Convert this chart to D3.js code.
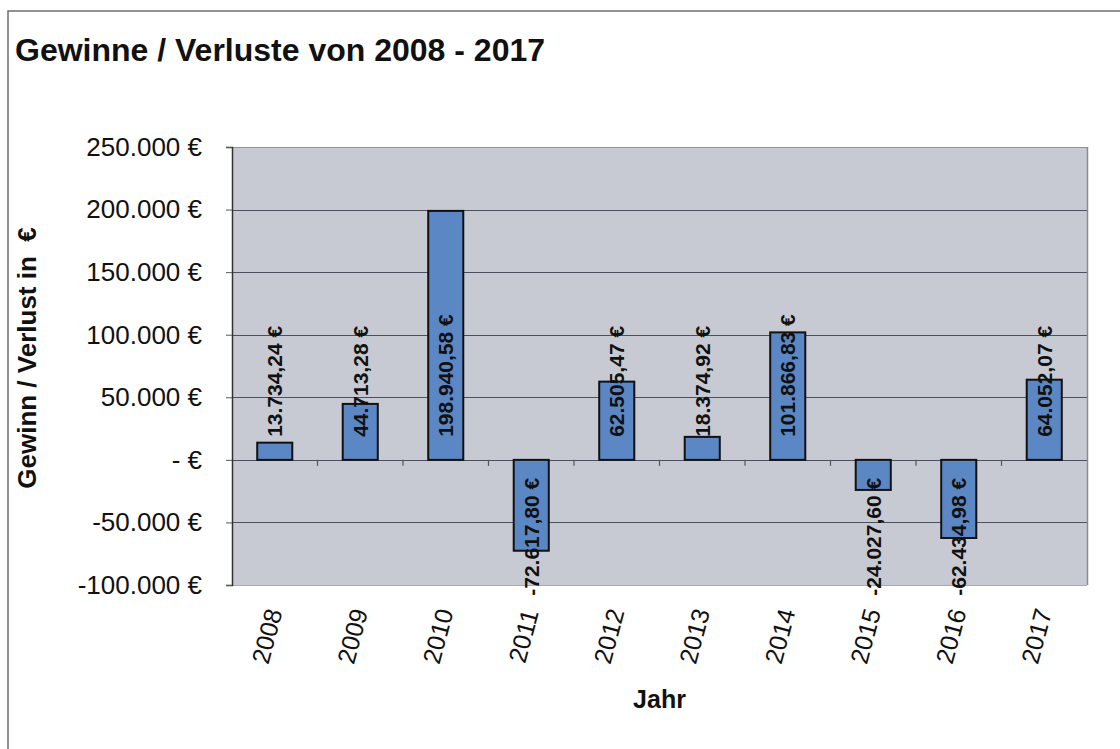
<!DOCTYPE html>
<html>
<head>
<meta charset="utf-8">
<script src="https://cdn.jsdelivr.net/npm/d3@7"></script>
<style>
  body { margin: 0; background: #fff; }
  text { font-family: "Liberation Sans", Arial, sans-serif; fill: #111; }
</style>
</head>
<body>
<div id="chart"></div>
<script>
// data
var years = ["2008", "2009", "2010", "2011", "2012", "2013", "2014", "2015", "2016", "2017"];
var profits = [13734.24, 44713.28, 198940.58, -72617.80, 62505.47, 18374.92, 101866.83, -24027.60, -62434.98, 64052.07];
var yTicks = [-100000, -50000, 0, 50000, 100000, 150000, 200000, 250000];

var width = 1120, height = 749;
var plot = {left: 232, right: 1087, top: 147, bottom: 585};

var de = d3.formatLocale({decimal: ",", thousands: ".", grouping: [3], currency: ["", " €"], minus: "-"});
var fmtTick = de.format(",.0f"),
    fmtVal = de.format(",.2f");

var svg = d3.select("#chart").append("svg")
    .attr("width", width)
    .attr("height", height);

// outer frame
svg.append("rect")
    .attr("x", 8).attr("y", 11)
    .attr("width", 1140).attr("height", 780)
    .attr("fill", "none")
    .attr("stroke", "#6f6f6f")
    .attr("stroke-width", 1.5);

svg.append("text")
    .attr("x", 15).attr("y", 61)
    .style("font-size", "32px")
    .style("font-weight", "bold")
    .text("Gewinne / Verluste von 2008 - 2017");

var x = d3.scaleBand()
    .domain(years)
    .range([plot.left, plot.right])
    .paddingInner(0.59)
    .paddingOuter(0.295);

var y = d3.scaleLinear()
    .domain([-100000, 250000])
    .range([plot.bottom, plot.top]);

// plot background
svg.append("rect")
    .attr("x", plot.left).attr("y", plot.top)
    .attr("width", plot.right - plot.left)
    .attr("height", plot.bottom - plot.top)
    .attr("fill", "#c8cad3");

// gridlines
svg.append("g").selectAll("line")
    .data(yTicks)
  .enter().append("line")
    .attr("x1", plot.left).attr("x2", plot.right)
    .attr("y1", function(d) { return Math.round(y(d)) + 0.5; })
    .attr("y2", function(d) { return Math.round(y(d)) + 0.5; })
    .attr("stroke", function(d) {
      if (d == 250000) return "#8e91a6";
      if (d == -100000) return "#a3a8c4";
      return "#4d4e5e";
    })
    .attr("stroke-width", 1.2);

// right border of plot area
svg.append("line")
    .attr("x1", plot.right + 0.5).attr("x2", plot.right + 0.5)
    .attr("y1", plot.top).attr("y2", plot.bottom)
    .attr("stroke", "#8a8a95")
    .attr("stroke-width", 1.5);

// y axis
var yAxis = svg.append("g")
    .attr("transform", "translate(" + plot.left + ",0)")
    .call(d3.axisLeft(y)
      .tickValues(yTicks)
      .tickSize(6)
      .tickPadding(24)
      .tickFormat(function(d) { return d == 0 ? "- €" : fmtTick(d) + " €"; }));
yAxis.select(".domain").attr("stroke", "#333").attr("stroke-width", 1.5);
yAxis.selectAll(".tick line").attr("stroke", "#555");
yAxis.selectAll(".tick text")
    .style("font-size", "26px")
    .style("font-family", "'Liberation Sans', Arial, sans-serif")
    .attr("fill", "#111");

// zero line tick marks between categories
svg.append("g").selectAll("line")
    .data(years.slice(1))
  .enter().append("line")
    .attr("x1", function(d) { return x(d) - x.step() * x.paddingInner() / 2; })
    .attr("x2", function(d) { return x(d) - x.step() * x.paddingInner() / 2; })
    .attr("y1", y(0)).attr("y2", y(0) + 6)
    .attr("stroke", "#555")
    .attr("stroke-width", 1.2);

// bars
svg.append("g").selectAll("rect")
    .data(profits)
  .enter().append("rect")
    .attr("x", function(d, i) { return x(years[i]); })
    .attr("y", function(d) { return y(Math.max(0, d)); })
    .attr("width", x.bandwidth())
    .attr("height", function(d) { return Math.abs(y(d) - y(0)); })
    .attr("fill", "#5b87c4")
    .attr("stroke", "#111")
    .attr("stroke-width", 2);

// value labels
svg.append("g").selectAll("text")
    .data(profits)
  .enter().append("text")
    .attr("transform", function(d, i) {
      var cx = x(years[i]) + x.bandwidth() / 2;
      var cy = d >= 0 ? y(0) - 23 : y(0) + 18;
      return "translate(" + cx + "," + cy + ") rotate(-90)";
    })
    .attr("text-anchor", function(d) { return d >= 0 ? "start" : "end"; })
    .attr("dominant-baseline", "central")
    .style("font-size", "21px")
    .style("font-weight", "bold")
    .text(function(d) { return fmtVal(d) + " €"; });

// x tick labels
svg.append("g").selectAll("text")
    .data(years)
  .enter().append("text")
    .attr("transform", function(d) {
      var cx = x(d) + x.bandwidth() / 2 - 8;
      return "translate(" + cx + ",636) rotate(-75)";
    })
    .attr("text-anchor", "middle")
    .attr("dominant-baseline", "central")
    .style("font-size", "25px")
    .text(function(d) { return d; });

// axis titles
svg.append("text")
    .attr("transform", "translate(27,358) rotate(-90)")
    .attr("text-anchor", "middle")
    .attr("dominant-baseline", "central")
    .style("font-size", "26px")
    .style("font-weight", "bold")
    .style("white-space", "pre")
    .text("Gewinn / Verlust in  €");

svg.append("text")
    .attr("x", (plot.left + plot.right) / 2)
    .attr("y", 708)
    .attr("text-anchor", "middle")
    .style("font-size", "25px")
    .style("font-weight", "bold")
    .text("Jahr");
</script>
</body>
</html>
